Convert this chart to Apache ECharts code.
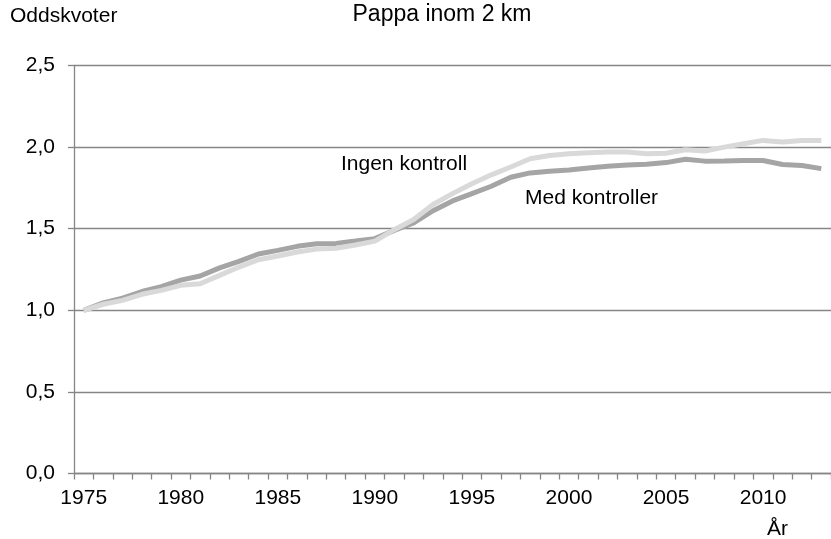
<!DOCTYPE html>
<html>
<head>
<meta charset="utf-8">
<script src="https://cdn.jsdelivr.net/npm/echarts@6/dist/echarts.min.js"></script>
<style>
html,body{margin:0;padding:0;background:#fff;}
#chart{width:831px;height:539px;}
</style>
</head>
<body>
<div id="chart"></div>
<script>
var years = [];
for (var y = 1975; y <= 2013; y++) years.push(String(y));

var medKontroller = [1.00,1.045,1.075,1.115,1.145,1.185,1.21,1.26,1.30,1.345,
  1.367,1.392,1.408,1.41,1.424,1.439,1.49,1.535,1.61,1.67,
  1.715,1.76,1.815,1.842,1.852,1.86,1.872,1.882,1.89,1.895,
  1.905,1.925,1.914,1.915,1.918,1.918,1.893,1.887,1.868];

var ingenKontroll = [1.00,1.037,1.061,1.098,1.122,1.153,1.163,1.214,1.265,1.31,
  1.333,1.357,1.375,1.38,1.40,1.424,1.494,1.556,1.648,1.715,
  1.776,1.83,1.878,1.929,1.949,1.959,1.966,1.970,1.970,1.959,
  1.962,1.984,1.976,2.0,2.021,2.041,2.031,2.041,2.041];

var yTicks = [0, 0.5, 1.0, 1.5, 2.0, 2.5];

var FONT = '"Liberation Sans", Arial, sans-serif';
var chart = echarts.init(document.getElementById('chart'), null, {renderer: 'canvas'});
chart.setOption({
  animation: false,
  backgroundColor: '#ffffff',
  grid: {left: 74, top: 65.5, width: 762, height: 408, containLabel: false},
  xAxis: {
    type: 'category',
    data: years,
    boundaryGap: true,
    axisLine: {show: true, lineStyle: {color: '#868686', width: 1.3}},
    axisTick: {show: true, length: 6, interval: 0, lineStyle: {color: '#868686', width: 1.3}},
    axisLabel: {
      interval: function (i) { return i % 5 === 0; },
      color: '#000', fontFamily: FONT, fontSize: 21, margin: 14
    },
    splitLine: {show: false}
  },
  yAxis: {
    type: 'value',
    min: yTicks[0], max: yTicks[yTicks.length - 1], interval: 0.5,
    axisLine: {show: true, lineStyle: {color: '#868686', width: 1.3}},
    axisTick: {show: true, length: 6, lineStyle: {color: '#868686', width: 1.3}},
    axisLabel: {
      color: '#000', fontFamily: FONT, fontSize: 21, margin: 19,
      formatter: function (v) { return v.toFixed(1).replace('.', ','); }
    },
    splitLine: {show: true, lineStyle: {color: '#868686', width: 1.3}}
  },
  series: [
    {
      name: 'Med kontroller', type: 'line', data: medKontroller,
      symbol: 'none', lineStyle: {color: '#a5a5a5', width: 5}, z: 2
    },
    {
      name: 'Ingen kontroll', type: 'line', data: ingenKontroll,
      symbol: 'none', lineStyle: {color: '#d9d9d9', width: 5}, z: 3
    }
  ],
  graphic: [
    {type: 'text', left: 10, top: 6, style: {text: 'Oddskvoter', font: '21px ' + FONT, fill: '#000'}},
    {type: 'text', x: 442, y: 15, style: {text: 'Pappa inom 2 km', font: '23px ' + FONT, fill: '#000', textAlign: 'center', textVerticalAlign: 'middle'}},
    {type: 'text', x: 341, y: 164.5, style: {text: 'Ingen kontroll', font: '21px ' + FONT, fill: '#000', textAlign: 'left', textVerticalAlign: 'middle'}},
    {type: 'text', x: 525, y: 198, style: {text: 'Med kontroller', font: '21px ' + FONT, fill: '#000', textAlign: 'left', textVerticalAlign: 'middle'}},
    {type: 'text', x: 777.5, y: 529, style: {text: 'År', font: '21px ' + FONT, fill: '#000', textAlign: 'center', textVerticalAlign: 'middle'}}
  ]
});
</script>
</body>
</html>
